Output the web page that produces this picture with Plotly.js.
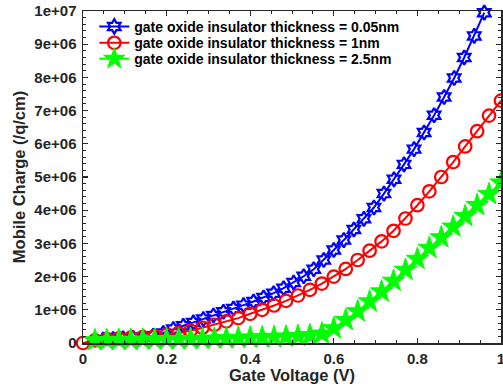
<!DOCTYPE html>
<html>
<head>
<meta charset="utf-8">
<script src="https://cdn.plot.ly/plotly-3.0.1.min.js"></script>
<style>
  html, body { margin: 0; padding: 0; background: #fff; }
  #chart { width: 503px; height: 389px; }
</style>
</head>
<body>
<div id="chart"></div>
<script>
// ---- data ----
var seriesNames = [
  'gate oxide insulator thickness = 0.05nm',
  'gate oxide insulator thickness = 1nm',
  'gate oxide insulator thickness = 2.5nm'
];

// Gate voltage (V) for the 0.05 nm series
var xBlue = [0.048, 0.072, 0.096, 0.12, 0.144, 0.168, 0.192, 0.216, 0.24, 0.264,
             0.288, 0.312, 0.336, 0.36, 0.384, 0.408, 0.432, 0.456, 0.48, 0.504,
             0.528, 0.552, 0.576, 0.6, 0.624, 0.648, 0.672, 0.696, 0.72, 0.744,
             0.768, 0.792, 0.816, 0.84, 0.864, 0.888, 0.912, 0.936, 0.96];
// Mobile charge (/q/cm)
var yBlue = [1.0e5, 1.2e5, 1.4e5, 1.6e5, 1.8e5, 2.2e5, 3.0e5, 4.2e5, 5.2e5, 6.2e5,
             7.2e5, 8.3e5, 9.4e5, 1.04e6, 1.14e6, 1.25e6, 1.37e6, 1.50e6, 1.65e6, 1.82e6,
             2.01e6, 2.22e6, 2.50e6, 2.80e6, 3.10e6, 3.42e6, 3.74e6, 4.08e6, 4.50e6, 4.93e6,
             5.38e6, 5.84e6, 6.34e6, 6.86e6, 7.41e6, 7.98e6, 8.60e6, 9.25e6, 9.95e6];

// Gate voltage (V) for the 1 nm series
var xRed = [0, 0.0286, 0.0571, 0.0857, 0.1143, 0.1429, 0.1714, 0.2, 0.2286, 0.2571,
            0.2857, 0.3143, 0.3429, 0.3714, 0.4, 0.4286, 0.4571, 0.4857, 0.5143, 0.5429,
            0.5714, 0.6, 0.6286, 0.6571, 0.6857, 0.7143, 0.7429, 0.7714, 0.8, 0.8286,
            0.8571, 0.8857, 0.9143, 0.9429, 0.9714, 1.0];
var yRed = [0, 8e4, 1.2e5, 1.4e5, 1.6e5, 1.8e5, 2.1e5, 2.5e5, 3.0e5, 3.7e5,
            4.6e5, 5.5e5, 6.5e5, 7.5e5, 8.8e5, 1.0e6, 1.13e6, 1.27e6, 1.43e6, 1.60e6,
            1.79e6, 2.0e6, 2.23e6, 2.50e6, 2.78e6, 3.06e6, 3.38e6, 3.75e6, 4.15e6, 4.57e6,
            5.0e6, 5.45e6, 5.92e6, 6.38e6, 6.85e6, 7.3e6];

// Gate voltage (V) for the 2.5 nm series
var xGreen = [0.0286, 0.0571, 0.0857, 0.1143, 0.1429, 0.1714, 0.2, 0.2286, 0.2571,
              0.2857, 0.3143, 0.3429, 0.3714, 0.4, 0.4286, 0.4571, 0.4857, 0.5143, 0.5429,
              0.5714, 0.6, 0.6286, 0.6571, 0.6857, 0.7143, 0.7429, 0.7714, 0.8, 0.8286,
              0.8571, 0.8857, 0.9143, 0.9429, 0.9714, 1.0];
var yGreen = [8e4, 8e4, 9e4, 9e4, 1.0e5, 1.0e5, 1.1e5, 1.1e5, 1.2e5,
              1.2e5, 1.3e5, 1.4e5, 1.5e5, 1.6e5, 1.7e5, 1.8e5, 1.9e5, 2.1e5, 2.3e5,
              2.8e5, 4.4e5, 6.9e5, 9.5e5, 1.25e6, 1.55e6, 1.87e6, 2.20e6, 2.53e6, 2.86e6,
              3.18e6, 3.50e6, 3.82e6, 4.15e6, 4.48e6, 4.83e6];

var xTickVals = [0, 0.2, 0.4, 0.6, 0.8, 1];
var xTickText = ['0', '0.2', '0.4', '0.6', '0.8', '1'];
var yTickVals = [0, 1e6, 2e6, 3e6, 4e6, 5e6, 6e6, 7e6, 8e6, 9e6, 1e7];
var yTickText = ['0', '1e+06', '2e+06', '3e+06', '4e+06', '5e+06', '6e+06', '7e+06', '8e+06', '9e+06', '1e+07'];

var xTitle = 'Gate Voltage (V)';
var yTitle = 'Mobile Charge (/q/cm)';

// ---- drawing ----
var FONT = '"Liberation Sans", Arial, Helvetica, sans-serif';
var AXC = '#262626';

var traces = [
  {
    x: xBlue, y: yBlue, name: seriesNames[0], type: 'scatter', mode: 'lines+markers',
    line: {color: '#0000ff', width: 2},
    marker: {symbol: 'hexagram-open', size: 11, color: '#0000ff', line: {color: '#0000ff', width: 2.2}},
    cliponaxis: false, legend: 'legend'
  },
  {
    x: xRed, y: yRed, name: seriesNames[1], type: 'scatter', mode: 'lines+markers',
    line: {color: '#ff0000', width: 2},
    marker: {symbol: 'circle-open', size: 12.5, color: '#ff0000', line: {color: '#ff0000', width: 2.2}},
    cliponaxis: false, legend: 'legend2'
  },
  {
    x: xGreen, y: yGreen, name: seriesNames[2], type: 'scatter', mode: 'lines+markers',
    line: {color: '#00ff00', width: 2},
    marker: {symbol: 'star', size: 17, color: '#00ff00', line: {color: '#00ff00', width: 1}},
    cliponaxis: false, legend: 'legend3'
  }
];

function leg(y) {
  return {
    x: 0.027, y: y, xanchor: 'left', yanchor: 'middle',
    bgcolor: 'rgba(0,0,0,0)', borderwidth: 0,
    font: {family: FONT, size: 14, color: '#000', weight: 'bold'}
  };
}

var layout = {
  width: 503, height: 389,
  margin: {l: 83, r: 2, t: 11, b: 46, pad: 0},
  paper_bgcolor: '#fff', plot_bgcolor: '#fff',
  showlegend: true,
  legend: leg(0.952),
  legend2: leg(0.903),
  legend3: leg(0.855),
  font: {family: FONT, color: AXC},
  xaxis: {
    range: [0, 1], tickvals: xTickVals, ticktext: xTickText,
    showgrid: false, zeroline: false,
    showline: true, linecolor: AXC, linewidth: 1.5, mirror: 'allticks',
    ticks: 'inside', ticklen: 5, tickwidth: 1.2, tickcolor: AXC,
    minor: {dtick: 0.05, tick0: 0, ticks: 'inside', ticklen: 3, tickwidth: 1, tickcolor: AXC, showgrid: false},
    tickfont: {family: FONT, size: 15, color: AXC, weight: 'bold'},
    ticklabeloverflow: 'allow', ticklabelstandoff: 1,
    title: {text: xTitle, font: {family: FONT, size: 16.5, color: AXC, weight: 'bold'}, standoff: 4},
    automargin: false
  },
  yaxis: {
    range: [0, 1e7], tickvals: yTickVals, ticktext: yTickText,
    showgrid: false, zeroline: false,
    showline: true, linecolor: AXC, linewidth: 1.5, mirror: 'allticks',
    ticks: 'inside', ticklen: 5, tickwidth: 1.2, tickcolor: AXC,
    minor: {dtick: 2e5, tick0: 0, ticks: 'inside', ticklen: 3, tickwidth: 1, tickcolor: AXC, showgrid: false},
    tickfont: {family: FONT, size: 15, color: AXC, weight: 'bold'},
    ticklabeloverflow: 'allow', ticklabelstandoff: 2,
    title: {text: yTitle, font: {family: FONT, size: 16.5, color: AXC, weight: 'bold'}, standoff: 4},
    automargin: false
  }
};

Plotly.newPlot('chart', traces, layout, {displayModeBar: false, staticPlot: true});
</script>
</body>
</html>
